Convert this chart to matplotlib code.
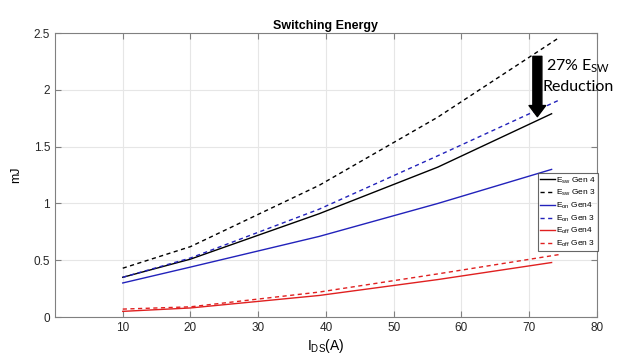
import matplotlib.pyplot as plt

plt.rcParams['font.family'] = ['Liberation Sans', 'DejaVu Sans']
plt.rcParams['mathtext.default'] = 'regular'

# current (A) for each series
ids_gen4 = [10, 20, 39, 56.5, 73.3]
ids_gen3 = [10, 20, 39, 56.5, 74.4]

esw_gen4 = [0.35, 0.51, 0.91, 1.32, 1.79]
esw_gen3 = [0.43, 0.62, 1.16, 1.76, 2.46]
eon_gen4 = [0.30, 0.44, 0.71, 1.00, 1.30]
eon_gen3 = [0.35, 0.52, 0.95, 1.42, 1.91]
eoff_gen4 = [0.05, 0.08, 0.19, 0.33, 0.48]
eoff_gen3 = [0.07, 0.09, 0.22, 0.38, 0.55]

x_ticks = [10, 20, 30, 40, 50, 60, 70, 80]
y_ticks = [0, 0.5, 1, 1.5, 2, 2.5]

fig = plt.figure(figsize=(6.18, 3.64), dpi=100)
ax = fig.add_axes([0.089, 0.129, 0.877, 0.780])

ax.plot(ids_gen4, esw_gen4, color='black', lw=1, label='E$_{sw}$ Gen 4')
ax.plot(ids_gen3, esw_gen3, color='black', lw=1, ls=(0, (3, 2.5)), label='E$_{sw}$ Gen 3')
ax.plot(ids_gen4, eon_gen4, color='#2222bb', lw=1, label='E$_{on}$ Gen4')
ax.plot(ids_gen3, eon_gen3, color='#2222bb', lw=1, ls=(0, (3, 2.5)), label='E$_{on}$ Gen 3')
ax.plot(ids_gen4, eoff_gen4, color='#e02020', lw=1, label='E$_{off}$ Gen4')
ax.plot(ids_gen3, eoff_gen3, color='#e02020', lw=1, ls=(0, (3, 2.5)), label='E$_{off}$ Gen 3')

ax.set_xlim(0, 80)
ax.set_ylim(0, 2.5)
ax.set_xticks(x_ticks)
ax.set_yticks(y_ticks)
ax.set_yticklabels(['0', '0.5', '1', '1.5', '2', '2.5'])
ax.grid(True, color='#e6e6e6', lw=0.8)
ax.set_axisbelow(True)
ax.tick_params(direction='in', length=4, colors='#808080', labelcolor='#262626', labelsize=8.5, top=True, right=True)
for s in ax.spines.values():
    s.set_color('#808080')
    s.set_linewidth(0.8)

ax.set_title('Switching Energy', fontsize=9, fontweight='bold', pad=3)
ax.set_xlabel('I$_{DS}$(A)', fontsize=10, labelpad=2)
ax.set_ylabel('mJ', fontsize=9, labelpad=8)

leg = ax.legend(loc='lower left', bbox_to_anchor=(0.891, 0.232), fontsize=6, frameon=True,
                fancybox=False, edgecolor='#404040', handlelength=1.8, handletextpad=0.15,
                labelspacing=0.3, borderpad=0.25, borderaxespad=0)
leg.get_frame().set_linewidth(0.8)

ax.annotate('', xy=(71.2, 1.74), xytext=(71.2, 2.32),
            arrowprops=dict(arrowstyle='simple,head_width=1.2,head_length=0.8,tail_width=0.65',
                            color='black'), annotation_clip=False)
fig.text(578 / 618, 1 - 66 / 364, '27% E$_{SW}$', fontsize=11.5, family=['Lato', 'DejaVu Sans'],
         ha='center', va='center')
fig.text(578 / 618, 1 - 87 / 364, 'Reduction', fontsize=11.5, family=['Lato', 'DejaVu Sans'],
         ha='center', va='center')

fig.savefig('out.png', dpi=100)
